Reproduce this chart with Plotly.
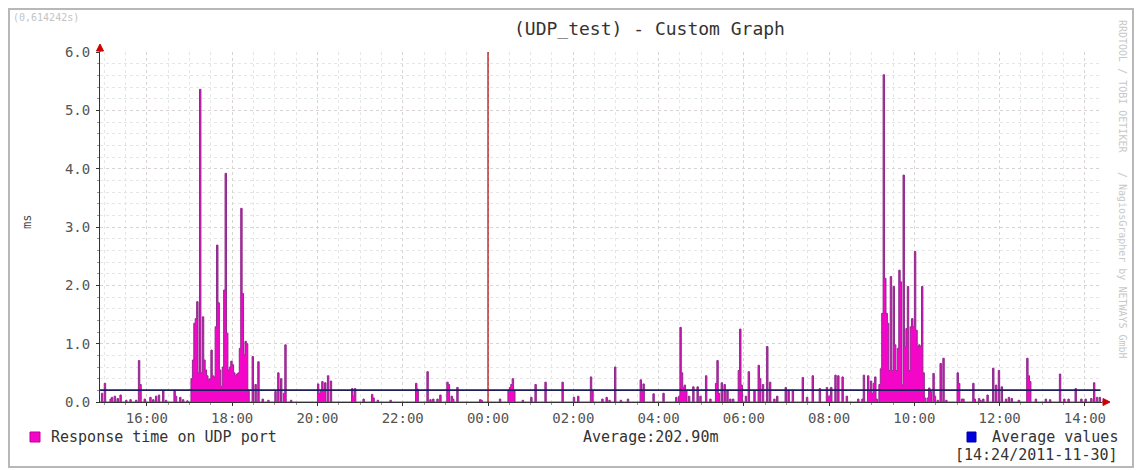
import plotly.graph_objects as go
import pandas as pd

# ---------------- data ----------------
start_time = "2011-11-29 14:54"
step = "2min"
# response time on UDP port [ms], one row per hour (2-minute samples)
response_ms = [
    # 14:54
    0, .15, 0, .32, 0, 0, 0, .05, .08, 0, .1, 0, .06, 0, .12, 0, 0, 0, .03, 0, 0, .04, 0, 0, 0, .03, 0, .71, .3, 0,
    # 15:54
    0, .05, 0, 0, 0, .08, 0, .04, 0, .1, 0, .12, 0, 0, .19, 0, .03, 0, 0, 0, 0, 0, .2, .1, 0, 0, .08, 0, .04, 0,
    # 16:54
    0, .02, 0, 0, .4, .72, 1.35, 1.43, 1.72, .5, 5.36, .5, 1.46, .72, .55, .45, .38, .4, .89, .45, .43, 1.29, 2.69, 1.7, .55, .27, .6, 1.92, 3.92, 1.18,
    # 17:54
    .55, .6, .7, .64, .5, .45, .48, .5, .92, 3.32, 1.86, .81, 1.04, 1.0, .2, 0, 0, .78, 0, .3, 0, .69, 0, 0, .05, 0, 0, 0, .03, 0,
    # 18:54
    0, 0, 0, .18, 0, .5, 0, .4, 0, .15, .98, 0, 0, 0, .03, 0, 0, 0, 0, 0, 0, 0, 0, 0, 0, 0, 0, 0, 0, 0,
    # 19:54
    0, 0, 0, .31, .15, .2, .35, .2, .33, 0, .45, 0, .36, 0, 0, 0, 0, 0, 0, 0, 0, 0, 0, 0, 0, 0, 0, .23, .1, .23,
    # 20:54
    0, 0, 0, 0, 0, .05, 0, 0, 0, 0, 0, .13, .07, 0, 0, .03, 0, 0, 0, 0, 0, 0, 0, 0, .03, 0, 0, 0, 0, 0,
    # 21:54
    0, 0, 0, 0, 0, 0, 0, 0, 0, 0, 0, 0, .32, .22, 0, 0, 0, 0, 0, 0, .52, 0, .04, 0, .05, 0, 0, .05, 0, .12,
    # 22:54
    0, 0, 0, 0, .34, .3, 0, .1, .05, 0, 0, .25, 0, 0, 0, 0, 0, 0, 0, 0, 0, 0, 0, 0, 0, 0, 0, .04, .03, 0,
    # 23:54
    0, 0, 0, 0, 0, 0, 0, 0, 0, 0, 0, .05, 0, 0, 0, 0, 0, .2, .25, .3, .4, .2, 0, 0, 0, 0, 0, .03, 0, 0,
    # 00:54
    0, 0, 0, .08, 0, 0, .3, 0, 0, 0, 0, 0, 0, .34, 0, 0, 0, 0, 0, 0, 0, 0, 0, 0, 0, .34, 0, 0, 0, 0,
    # 01:54
    0, 0, 0, .08, 0, 0, .1, 0, 0, 0, 0, 0, 0, 0, 0, .43, .2, 0, 0, 0, 0, 0, 0, .05, 0, 0, .08, 0, .03, 0,
    # 02:54
    0, 0, .6, 0, 0, 0, .03, 0, 0, 0, 0, .05, 0, 0, 0, 0, 0, 0, 0, 0, .38, .2, .31, 0, 0, 0, 0, 0, 0, .14,
    # 03:54
    0, 0, 0, 0, 0, 0, .15, 0, 0, 0, 0, 0, 0, 0, 0, .08, 0, .1, 1.28, .5, .25, .29, .2, 0, .1, 0, 0, .26, 0, 0,
    # 04:54
    .26, 0, .1, 0, 0, 0, .45, 0, 0, .05, 0, 0, 0, .32, .71, .15, 0, .33, 0, .3, 0, .2, 0, .05, 0, .05, 0, 0, 0, .54,
    # 05:54
    1.25, .29, 0, 0, .1, 0, .52, 0, 0, 0, .2, 0, 0, .63, .4, 0, .3, 0, 0, .95, 0, .34, 0, 0, .05, 0, .1, 0, 0, 0,
    # 06:54
    0, 0, .25, 0, .2, 0, 0, .2, 0, 0, 0, 0, 0, 0, .42, 0, 0, .08, 0, 0, 0, .45, 0, 0, 0, 0, .23, 0, 0, 0,
    # 07:54
    0, .25, .1, .1, .25, 0, 0, .46, 0, .45, 0, 0, .43, 0, 0, .1, 0, 0, 0, 0, 0, 0, 0, .05, 0, 0, .05, .46, 0, 0,
    # 08:54
    .45, .2, .36, .15, .32, .43, .05, 0, .3, .57, 1.52, 5.61, 2.12, 1.52, 1.35, .54, 2.15, .54, 1.98, .98, .54, .92, 2.26, 2.06, .29, 3.89, .95, 1.26, 1.98, .54,
    # 09:54
    1.29, 1.43, 1.29, 2.58, 1.23, .95, .98, .95, 1.98, .5, .07, 0, .07, .24, .18, 0, .49, .1, 0, .03, 0, .66, 0, .75, 0, .03, 0, 0, 0, 0,
    # 10:54
    0, 0, 0, .5, .32, 0, .05, .05, 0, 0, 0, 0, 0, 0, .32, .05, 0, 0, .06, .03, 0, .05, 0, 0, .12, 0, 0, 0, .58, 0,
    # 11:54
    .29, 0, .54, 0, .26, 0, 0, .05, 0, .08, 0, .06, 0, 0, 0, 0, .03, 0, 0, 0, 0, 0, .75, .45, .35, 0, 0, 0, .05, 0,
    # 12:54
    0, 0, 0, 0, 0, .05, 0, 0, .04, 0, 0, 0, 0, 0, 0, .48, 0, 0, .05, 0, 0, .05, 0, 0, 0, 0, .23, 0, 0, 0,
    # 13:54
    .05, 0, 0, .05, 0, 0, 0, .06, 0, .33, 0, .08, 0, .08, 0,
]
average_ms = 0.2029
average_label = "Average:202.90m"
vrule_time = "2011-11-30 00:00"
x_range = ["2011-11-29 14:54", "2011-11-30 14:24"]
tick_times = ["2011-11-29 16:00", "2011-11-29 18:00", "2011-11-29 20:00", "2011-11-29 22:00",
              "2011-11-30 00:00", "2011-11-30 02:00", "2011-11-30 04:00", "2011-11-30 06:00",
              "2011-11-30 08:00", "2011-11-30 10:00", "2011-11-30 12:00", "2011-11-30 14:00"]
tick_labels = ["16:00", "18:00", "20:00", "22:00", "00:00", "02:00", "04:00", "06:00",
               "08:00", "10:00", "12:00", "14:00"]
y_ticks = [0, 1, 2, 3, 4, 5, 6]
y_labels = ["0.0", "1.0", "2.0", "3.0", "4.0", "5.0", "6.0"]

# ---------------- layout geometry ----------------
W, H = 1143, 470
L, R, T, B = 100, 41, 52, 68
PW, PH = W - L - R, H - T - B


def fx(px):
    return (px - L) / PW


def fy(py):
    return (H - B - py) / PH


MONO = "DejaVu Sans Mono"
FILL = "#f406c8"
EDGE = "#8e2a8c"

times = pd.date_range(start_time, periods=len(response_ms), freq=step)

fig = go.Figure()
fig.add_trace(go.Scatter(
    x=times, y=response_ms, mode="lines",
    line=dict(color=EDGE, width=1, shape="hv"),
    fill="tozeroy", fillcolor=FILL, hoverinfo="skip"))
fig.add_trace(go.Scatter(
    x=[times[0], times[-1]], y=[average_ms, average_ms], mode="lines",
    line=dict(color="#1c1c5c", width=1.6), hoverinfo="skip"))
fig.add_trace(go.Scatter(
    x=[vrule_time, vrule_time], y=[y_ticks[0], y_ticks[-1]], mode="lines",
    line=dict(color="#b00000", width=1.2), hoverinfo="skip"))

axis_common = dict(
    showgrid=True, gridcolor="#d8d2d2", griddash="dot", gridwidth=1,
    showline=True, linecolor="#333333", linewidth=1,
    ticks="outside", ticklen=3, tickcolor="#333333",
    tickfont=dict(family=MONO, size=14, color="#555555"),
    zeroline=False, fixedrange=True,
)

fig.update_xaxes(
    type="date", range=x_range, tickmode="array",
    tickvals=tick_times, ticktext=tick_labels,
    minor=dict(dtick=1800000, tick0="2011-11-29 15:00", showgrid=True,
               gridcolor="#e6e6e6", griddash="dot", ticks="outside", ticklen=2,
               tickcolor="#999999"),
    **axis_common)
fig.update_yaxes(
    range=[y_ticks[0], y_ticks[-1]], tickmode="array",
    tickvals=y_ticks, ticktext=y_labels,
    minor=dict(dtick=0.2, showgrid=True, gridcolor="#e6e6e6", griddash="dot",
               ticks="outside", ticklen=2, tickcolor="#999999"),
    ticklabelstandoff=3,
    **axis_common)

shapes = [
    # outer frame
    dict(type="rect", xref="paper", yref="paper",
         x0=fx(9), x1=fx(1133), y0=fy(467), y1=fy(9),
         line=dict(color="#b8b8b8", width=2), fillcolor="rgba(0,0,0,0)", layer="below"),
    # axis extensions and arrows
    dict(type="line", xref="paper", yref="paper", x0=0, x1=0, y0=1, y1=fy(46),
         line=dict(color="#333333", width=1)),
    dict(type="path", xref="paper", yref="paper",
         path=f"M {fx(96.5)},{fy(51)} L {fx(103.5)},{fy(51)} L {fx(100)},{fy(44)} Z",
         fillcolor="#cc0000", line=dict(color="#cc0000", width=1)),
    dict(type="line", xref="paper", yref="paper", x0=1, x1=fx(1104), y0=0, y1=0,
         line=dict(color="#333333", width=1)),
    dict(type="path", xref="paper", yref="paper",
         path=f"M {fx(1103)},{fy(398.5)} L {fx(1103)},{fy(405.5)} L {fx(1110)},{fy(402)} Z",
         fillcolor="#cc0000", line=dict(color="#cc0000", width=1)),
    # legend squares
    dict(type="rect", xref="paper", yref="paper",
         x0=fx(30), x1=fx(40), y0=fy(442), y1=fy(432),
         fillcolor=FILL, line=dict(color="#c000a0", width=1)),
    dict(type="rect", xref="paper", yref="paper",
         x0=fx(967), x1=fx(976), y0=fy(442), y1=fy(432),
         fillcolor="#0000dd", line=dict(color="#0000aa", width=1)),
]

ann = [
    dict(text="(UDP_test) - Custom Graph", x=fx(649), y=fy(28),
         font=dict(family=MONO, size=18, color="#333333")),
    dict(text="(0,614242s)", x=fx(11), y=fy(18), xanchor="left",
         font=dict(family=MONO, size=10, color="#c4c4c4")),
    dict(text="ms", x=fx(27), y=fy(222), textangle=-90,
         font=dict(family=MONO, size=12, color="#444444")),
    dict(text="RRDTOOL / TOBI OETIKER", x=fx(1123), y=fy(86), textangle=90,
         font=dict(family=MONO, size=10, color="#c8c8c8")),
    dict(text="/ NagiosGrapher by NETWAYS GmbH", x=fx(1123), y=fy(265), textangle=90,
         font=dict(family=MONO, size=10, color="#c8c8c8")),
    dict(text="Response time on UDP port", x=fx(49), y=fy(437), xanchor="left",
         font=dict(family=MONO, size=15, color="#333333")),
    dict(text=average_label, x=fx(650), y=fy(437),
         font=dict(family=MONO, size=15, color="#333333")),
    dict(text="Average values", x=fx(1120), y=fy(437), xanchor="right",
         font=dict(family=MONO, size=15, color="#333333")),
    dict(text="[14:24/2011-11-30]", x=fx(1120), y=fy(455), xanchor="right",
         font=dict(family=MONO, size=15, color="#333333")),
]
for a in ann:
    a.update(xref="paper", yref="paper", showarrow=False)
    a.setdefault("xanchor", "center")
    a.setdefault("yanchor", "middle")

fig.update_layout(
    width=W, height=H,
    margin=dict(l=L, r=R, t=T, b=B, autoexpand=False),
    paper_bgcolor="white", plot_bgcolor="white",
    showlegend=False, shapes=shapes, annotations=ann,
    font=dict(family=MONO, color="#444444"),
)

fig.write_html(
    "out.html",
    config={"displayModeBar": False},
    post_script="document.body.style.margin='0';document.body.style.padding='0';",
)
